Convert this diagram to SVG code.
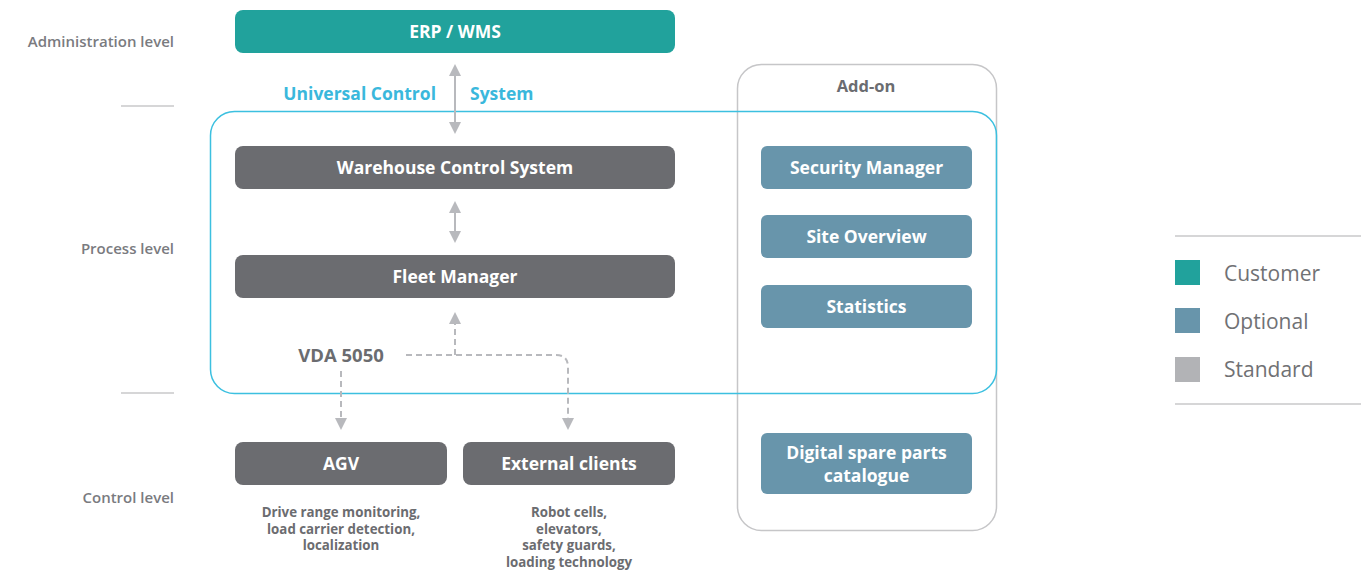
<svg xmlns="http://www.w3.org/2000/svg" width="1361" height="570" viewBox="0 0 1361 570">
<defs>
<style>
.node{stroke:none}
.std{fill:#6b6c70}
.cust{fill:#21a29c}
.opt{fill:#6895ab}
.nt{font-family:"Open Sans","Noto Sans",sans-serif;font-weight:700;font-size:17.5px;fill:#fff;text-anchor:middle}
.lvl{font-family:"Open Sans","Noto Sans",sans-serif;font-weight:600;font-size:15px;fill:#7a7b7f;text-anchor:end}
.sub{font-family:"Open Sans","Noto Sans",sans-serif;font-weight:700;font-size:13.3px;fill:#6b6c70;text-anchor:middle}
.ucs{font-family:"Open Sans","Noto Sans",sans-serif;font-weight:700;font-size:17.5px;fill:#3ab8dc}
.leg{font-family:"Open Sans","Noto Sans",sans-serif;font-weight:400;font-size:21px;fill:#707174}
.conn{stroke:#b8b9bd;stroke-width:2;fill:none}
.dash{stroke-dasharray:6 4}
.sep{stroke:#c8c8ca;stroke-width:1.5}
</style>
<marker id="ah" viewBox="0 0 12 12" refX="10" refY="6" markerWidth="12" markerHeight="12" markerUnits="userSpaceOnUse" orient="auto-start-reverse">
<path d="M0,0 L12,6 L0,12 Z" fill="#b8b9bd"/>
</marker>
</defs>

<g id="levels">
<text class="lvl" x="174" y="47">Administration level</text>
<line class="sep" x1="121" y1="106" x2="174" y2="106"/>
<text class="lvl" x="174" y="254">Process level</text>
<line class="sep" x1="121" y1="393" x2="174" y2="393"/>
<text class="lvl" x="174" y="503">Control level</text>
</g>

<g id="addon-container">
<rect x="737.5" y="64.5" width="259" height="466" rx="24" fill="none" stroke="#c6c6c8" stroke-width="1.5"/>
<text x="866" y="92" font-family="Open Sans, Noto Sans, sans-serif" font-weight="700" font-size="16.5px" fill="#6b6c70" text-anchor="middle">Add-on</text>
</g>

<g id="ucs-container">
<rect x="210.5" y="111.5" width="786" height="282" rx="24" fill="none" stroke="#3cc0e0" stroke-width="1.5"/>
<text class="ucs" x="436" y="100" text-anchor="end">Universal Control</text>
<text class="ucs" x="470" y="100">System</text>
</g>

<g id="connectors">
<line class="conn" x1="455" y1="66" x2="455" y2="132" marker-start="url(#ah)" marker-end="url(#ah)"/>
<line class="conn" x1="455" y1="203" x2="455" y2="241" marker-start="url(#ah)" marker-end="url(#ah)"/>
<path class="conn dash" d="M455,355 L455,314" marker-end="url(#ah)"/>
<path class="conn dash" d="M406,355 L556,355 Q568,355 568,367 L568,428" marker-end="url(#ah)"/>
<path class="conn dash" d="M341,371 L341,428" marker-end="url(#ah)"/>
</g>

<g id="erp-wms">
<rect class="node cust" x="235" y="10" width="440" height="43" rx="8"/>
<text class="nt" x="455" y="38">ERP / WMS</text>
</g>
<g id="wcs">
<rect class="node std" x="235" y="146" width="440" height="43" rx="8"/>
<text class="nt" x="455" y="174">Warehouse Control System</text>
</g>
<g id="fleet-manager">
<rect class="node std" x="235" y="255" width="440" height="43" rx="8"/>
<text class="nt" x="455" y="283">Fleet Manager</text>
</g>
<g id="vda">
<text x="341" y="362" font-family="Open Sans, Noto Sans, sans-serif" font-weight="700" font-size="18.5px" fill="#6b6c70" text-anchor="middle">VDA 5050</text>
</g>
<g id="agv">
<rect class="node std" x="235" y="442" width="212" height="43" rx="8"/>
<text class="nt" x="341" y="470">AGV</text>
<text class="sub"><tspan x="341" y="517">Drive range monitoring,</tspan><tspan x="341" y="533.5">load carrier detection,</tspan><tspan x="341" y="550">localization</tspan></text>
</g>
<g id="external-clients">
<rect class="node std" x="463" y="442" width="212" height="43" rx="8"/>
<text class="nt" x="569" y="470">External clients</text>
<text class="sub"><tspan x="569" y="517">Robot cells,</tspan><tspan x="569" y="533.5">elevators,</tspan><tspan x="569" y="550">safety guards,</tspan><tspan x="569" y="566.5">loading technology</tspan></text>
</g>
<g id="security-manager">
<rect class="node opt" x="761" y="146" width="211" height="43" rx="6"/>
<text class="nt" x="866.5" y="174">Security Manager</text>
</g>
<g id="site-overview">
<rect class="node opt" x="761" y="215" width="211" height="43" rx="6"/>
<text class="nt" x="866.5" y="243">Site Overview</text>
</g>
<g id="statistics">
<rect class="node opt" x="761" y="285" width="211" height="43" rx="6"/>
<text class="nt" x="866.5" y="313">Statistics</text>
</g>
<g id="spare-parts">
<rect class="node opt" x="761" y="433" width="211" height="61" rx="6"/>
<text class="nt"><tspan x="866.5" y="459">Digital spare parts</tspan><tspan x="866.5" y="481.5">catalogue</tspan></text>
</g>

<g id="legend">
<line class="sep" x1="1175" y1="236" x2="1361" y2="236"/>
<rect x="1175" y="260" width="25" height="25" fill="#21a29c"/>
<text class="leg" x="1224" y="281">Customer</text>
<rect x="1175" y="308" width="25" height="25" fill="#6895ab"/>
<text class="leg" x="1224" y="329">Optional</text>
<rect x="1175" y="357" width="25" height="25" fill="#b2b3b6"/>
<text class="leg" x="1224" y="377">Standard</text>
<line class="sep" x1="1175" y1="404" x2="1361" y2="404"/>
</g>
</svg>
